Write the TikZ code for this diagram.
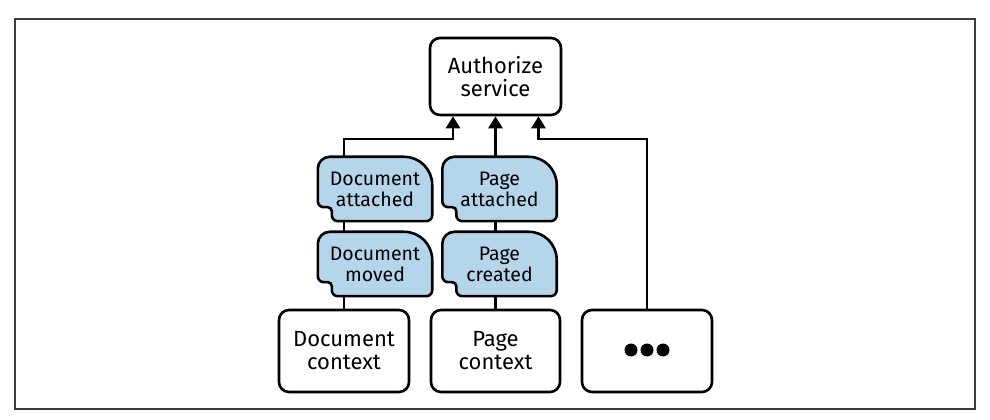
\documentclass[tikz,border=0pt]{standalone}
\usepackage{fontspec}
\setmainfont{Fira Sans}
\usetikzlibrary{arrows.meta,calc,backgrounds}
\definecolor{evtblue}{RGB}{181,213,235}
\definecolor{framegray}{RGB}{60,60,60}
\tikzset{
 box/.style={draw, line width=2.6pt, rounded corners=10pt, fill=white, align=center, font=\fontsize{22}{23}\selectfont, inner sep=0pt},
 evtnode/.style={align=center, font=\fontsize{19.5}{21}\selectfont, inner sep=0pt, minimum width=114pt, minimum height=64pt},
 evtline/.style={draw, line width=2.6pt, fill=evtblue},
 conn/.style={line width=2.6pt},
 arr/.style={conn, -{Triangle[width=14pt,length=12pt]}},
 frame/.style={line width=1.5pt, draw=framegray},
}
\newcommand\evtshape[1]{\path[evtline] let \p1=(#1.south west), \p2=(#1.north east) in
 (\x1,\y1+20pt) -- (\x1,\y2-12pt) arc[start angle=180,end angle=90,radius=12pt]
 -- (\x2-28pt,\y2) arc[start angle=90,end angle=0,radius=28pt]
 -- (\x2,\y1+6pt) arc[start angle=0,end angle=-90,radius=6pt]
 -- (\x1+20pt,\y1) arc[start angle=270,end angle=180,radius=6pt]
 -- (\x1+14pt,\y1+10pt) arc[start angle=0,end angle=90,radius=4pt]
 -- (\x1+6pt,\y1+14pt) arc[start angle=270,end angle=180,radius=6pt] -- cycle;}
\begin{document}
\begin{tikzpicture}[x=1pt,y=1pt]
\useasboundingbox (0,0) rectangle (990,420);
\draw[frame] (15,11) rectangle (975,401);

\node[box, minimum width=131pt, minimum height=77pt] (auth) at (495.5,343.5) {Authorize\\service};
\node[evtnode] (datt) at (375,231) {Document\\attached};
\node[evtnode] (dmov) at (375,156) {Document\\moved};
\node[evtnode] (patt) at (499.5,231) {Page\\attached};
\node[evtnode] (pcre) at (499.5,156) {Page\\created};
\node[box, minimum width=130pt, minimum height=82pt] (dctx) at (344,69) {Document\\context};
\node[box, minimum width=129pt, minimum height=82pt] (pctx) at (495.5,69) {Page\\context};
\node[box, minimum width=130pt, minimum height=82pt] (more) at (647,69) {};
\foreach \dx in {-16,0,16} \fill ([xshift=\dx pt,yshift=1pt]more.center) circle[radius=6.5pt];

\begin{pgfonlayer}{background}
\evtshape{datt}
\evtshape{dmov}
\evtshape{patt}
\evtshape{pcre}
\end{pgfonlayer}

\coordinate (bus) at (0,281);
\draw[conn] (dctx.north) -- (dctx.north |- dmov.south);
\draw[conn] (dctx.north |- dmov.north) -- (dctx.north |- datt.south);
\draw[arr] (dctx.north |- datt.north) -- (dctx.north |- bus) -| ([xshift=-42.5pt]auth.south);

\draw[conn] (pctx.north) -- (pctx.north |- pcre.south);
\draw[conn] (pctx.north |- pcre.north) -- (pctx.north |- patt.south);
\draw[arr] (pctx.north |- patt.north) -- (pctx.north |- auth.south);

\draw[arr] (more.north) -- (more.north |- bus) -| ([xshift=43pt]auth.south);
\end{tikzpicture}
\end{document}
